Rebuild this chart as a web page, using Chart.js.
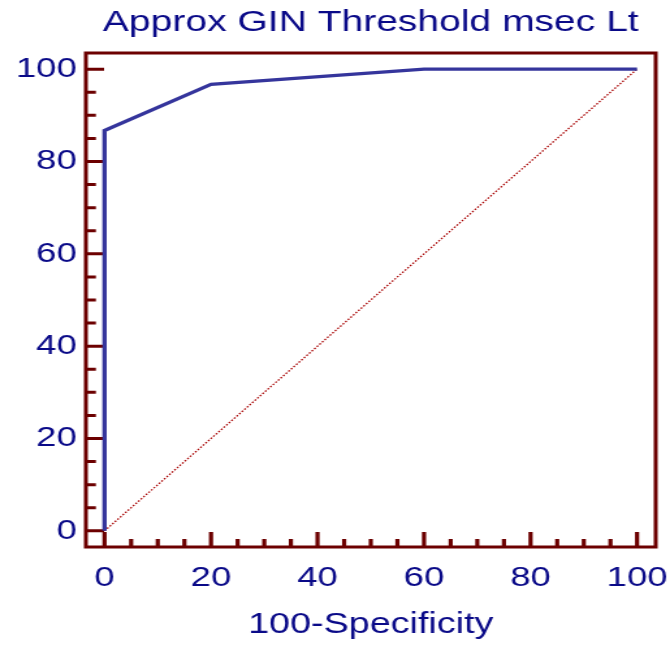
<!DOCTYPE html>
<html><head><meta charset="utf-8">
<script src="https://cdn.jsdelivr.net/npm/chart.js@4/dist/chart.umd.min.js"></script>
<style>html,body{margin:0;padding:0;background:#fff;overflow:hidden}canvas{display:block}</style>
</head>
<body>
<canvas id="c" width="515" height="646" style="width:670px;height:646px"></canvas>
<script>
// ---- data ----
const specX = [0, 0, 20, 60, 100];          // 100-Specificity
const sensY = [0, 86.7, 96.7, 100, 100];    // Sensitivity
const diagX = [0, 100];
const diagY = [0, 100];
const tickValues = [0, 20, 40, 60, 80, 100];
const minorValues = [0,5,10,15,20,25,30,35,40,45,50,55,60,65,70,75,80,85,90,95,100];
const titleText = 'Approx GIN Threshold msec Lt';
const xTitle = '100-Specificity';

const TEXT = '#0a0a88';
const FRAME = '#6c0000';
Chart.defaults.font.family = "'Liberation Sans', Arial, sans-serif";
Chart.defaults.color = TEXT;

const frame = {
  id: 'frame',
  beforeDatasetsDraw(chart) {
    const {ctx, chartArea: a, scales: {x, y}} = chart;
    ctx.save();
    ctx.strokeStyle = FRAME;
    ctx.lineWidth = 3;
    ctx.strokeRect(a.left, a.top, a.right - a.left, a.bottom - a.top);
    ctx.beginPath();
    minorValues.forEach(v => {
      const major = tickValues.includes(v);
      const px = x.getPixelForValue(v);
      ctx.moveTo(px, a.bottom);
      ctx.lineTo(px, a.bottom - (major ? 15 : 8));
    });
    ctx.lineWidth = 3.2;
    ctx.stroke();
    ctx.beginPath();
    minorValues.forEach(v => {
      const major = tickValues.includes(v);
      const py = y.getPixelForValue(v);
      ctx.moveTo(a.left, py);
      ctx.lineTo(a.left + (major ? 14 : 7.7), py);
    });
    ctx.lineWidth = 3;
    ctx.stroke();
    ctx.restore();
  }
};

function noPad(s) { s.paddingLeft = 0; s.paddingRight = 0; s.paddingTop = 0; s.paddingBottom = 0; }

new Chart(document.getElementById('c'), {
  type: 'scatter',
  data: {
    datasets: [
      {
        data: specX.map((v, i) => ({x: v, y: sensY[i]})),
        showLine: true, borderColor: '#35359c', borderWidth: 3.3,
        pointRadius: 0, fill: false, tension: 0, order: 1
      },
      {
        data: diagX.map((v, i) => ({x: v, y: diagY[i]})),
        showLine: true, borderColor: '#a80000', borderWidth: 1.3,
        borderDash: [1.5, 1.5], pointRadius: 0, fill: false, order: 2
      }
    ]
  },
  options: {
    responsive: false, devicePixelRatio: 1, animation: false,
    layout: {padding: {left: 0, right: 11, top: 0, bottom: 0}},
    plugins: {
      legend: {display: false},
      tooltip: {enabled: false},
      title: {
        display: true, text: titleText, fullSize: false, color: TEXT,
        font: {size: 30, weight: 'normal'}, padding: {top: 5, bottom: 12}
      }
    },
    scales: {
      x: {
        type: 'linear', min: -3.5, max: 103.5,
        grid: {display: false, drawTicks: false}, border: {display: false},
        afterBuildTicks: s => { s.ticks = tickValues.map(v => ({value: v})); },
        ticks: {color: TEXT, font: {size: 28}, padding: 14, maxRotation: 0, autoSkip: false},
        title: {display: true, text: xTitle, color: TEXT, font: {size: 29}, padding: {top: 0, bottom: 4}},
        afterFit: s => { s.height = 99; noPad(s); }
      },
      y: {
        type: 'linear', min: -3.5, max: 103.5,
        grid: {display: false, drawTicks: false}, border: {display: false},
        afterBuildTicks: s => { s.ticks = tickValues.map(v => ({value: v})); },
        ticks: {color: TEXT, font: {size: 28}, padding: 7, autoSkip: false},
        afterFit: s => { s.width = 66; noPad(s); }
      }
    }
  },
  plugins: [frame]
});
</script>
</body></html>
